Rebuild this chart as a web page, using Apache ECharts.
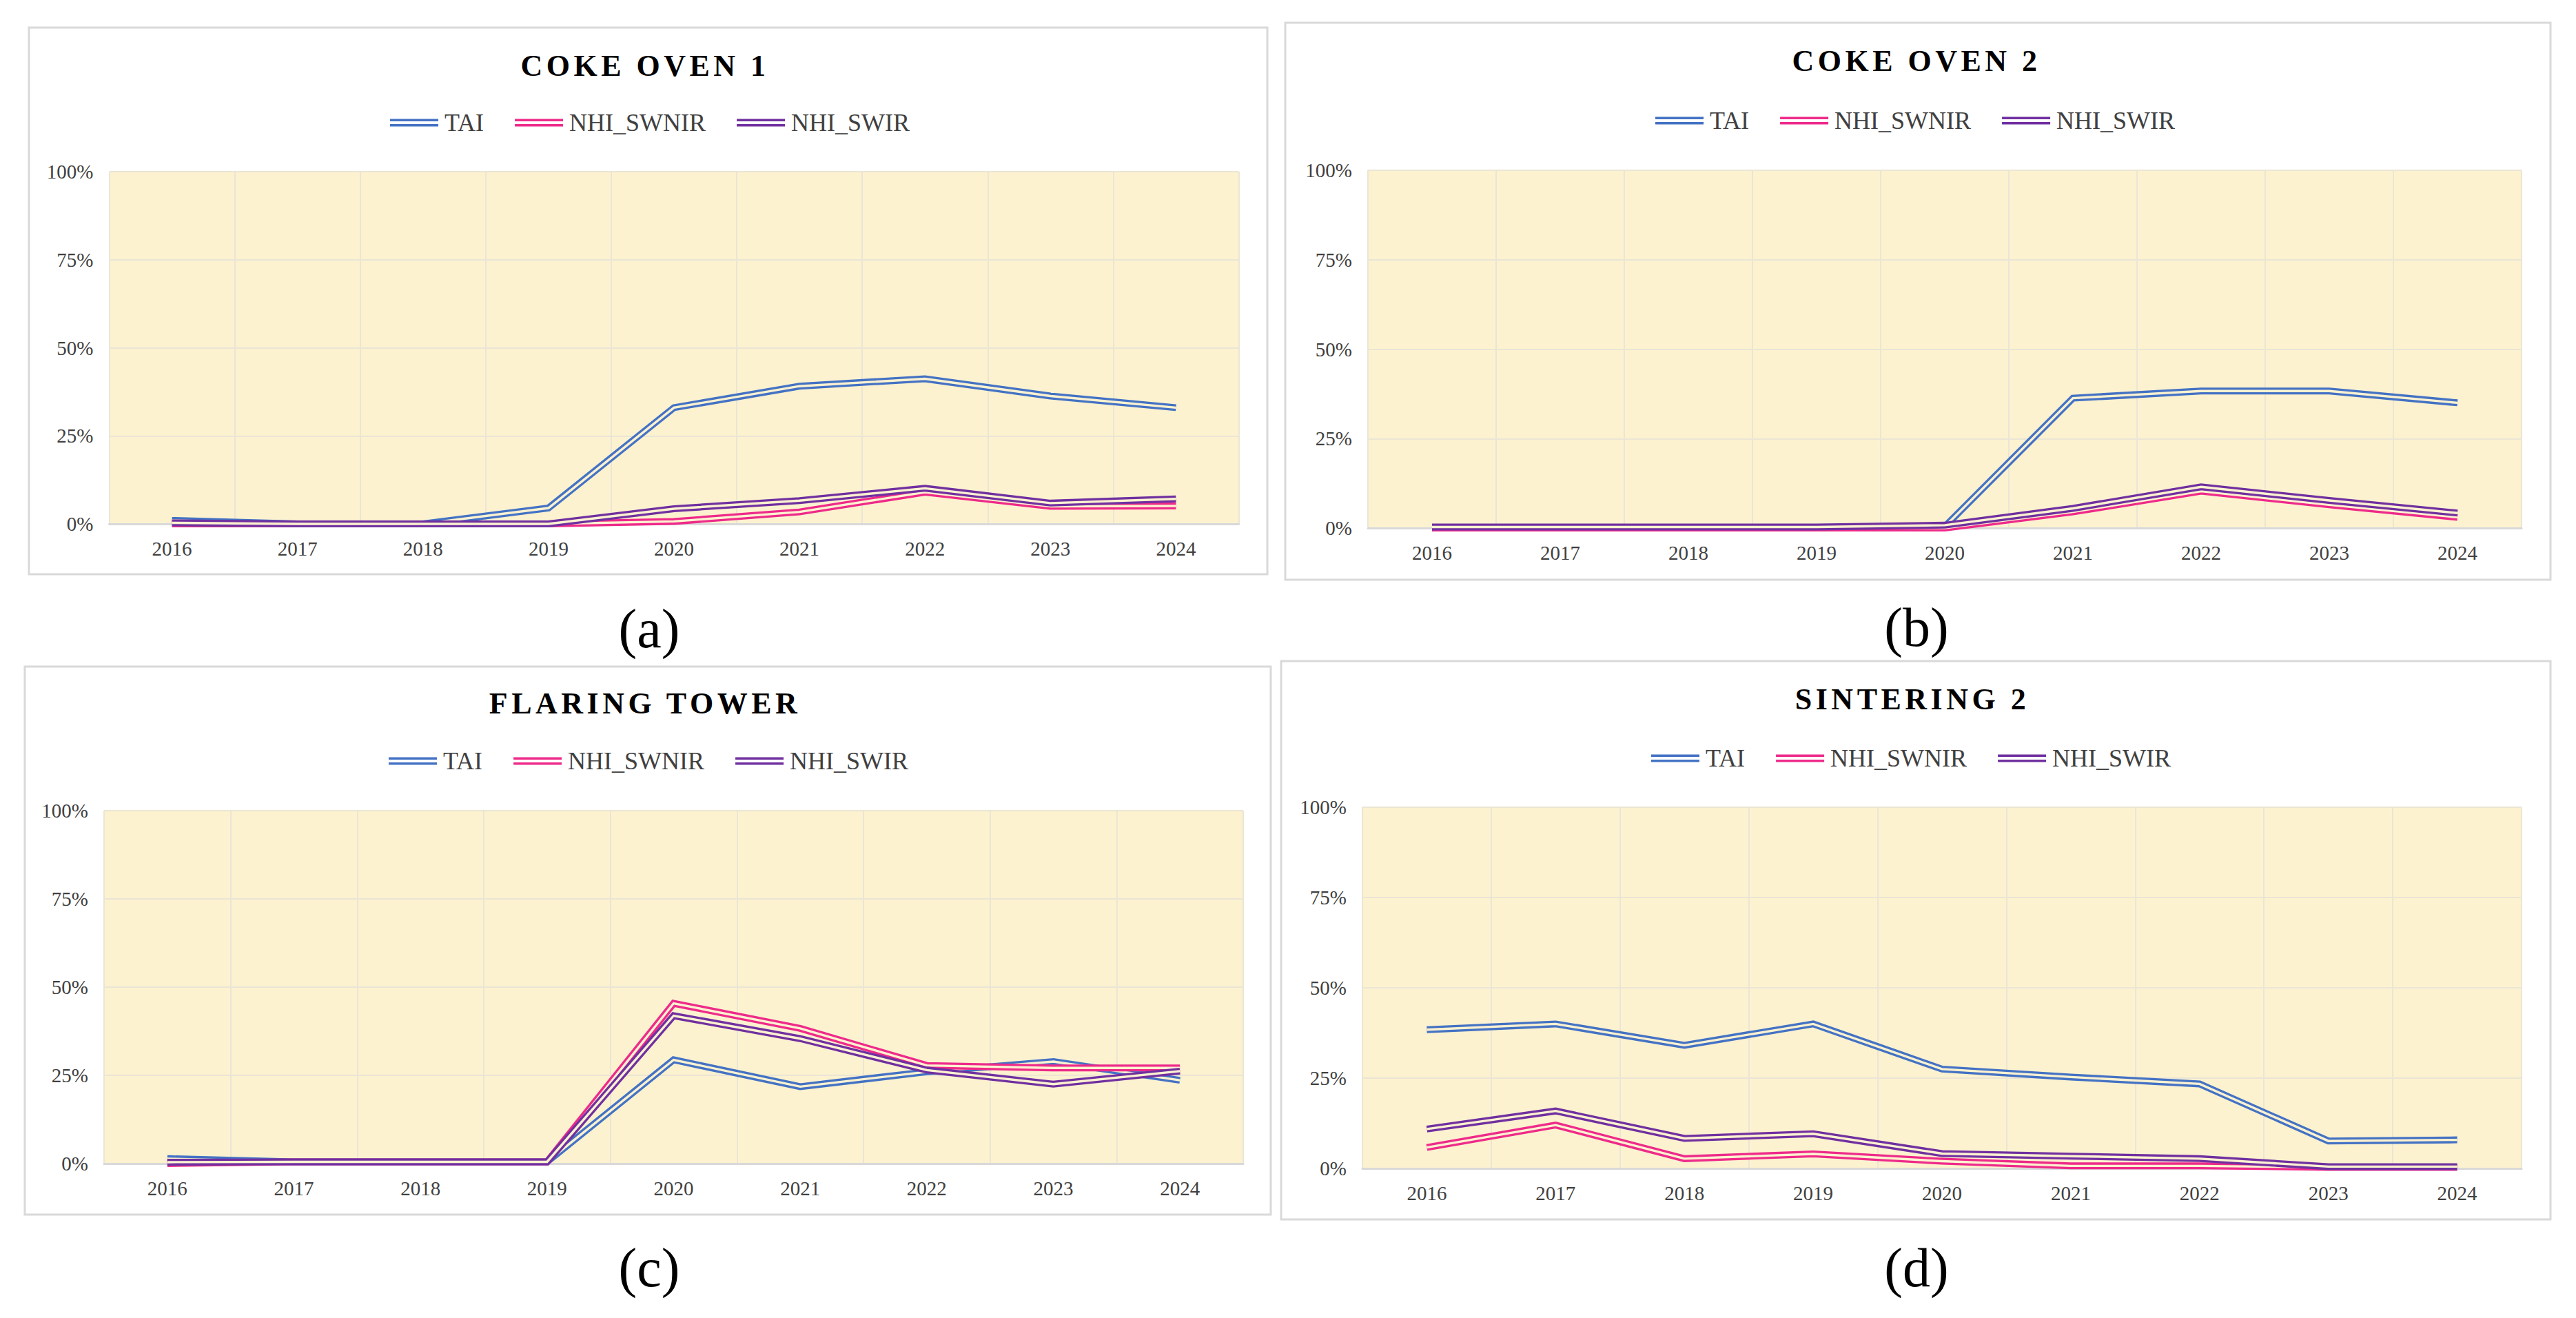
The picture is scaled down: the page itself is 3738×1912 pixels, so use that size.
<!DOCTYPE html>
<html>
<head>
<meta charset="utf-8">
<script src="https://cdn.jsdelivr.net/npm/echarts@6/dist/echarts.min.js"></script>
<style>
html,body{margin:0;padding:0;background:#ffffff;}
#chart{width:3738px;height:1912px;}
</style>
</head>
<body>
<div id="chart"></div>
<script>
// ---------------- DATA ----------------
const years = ['2016','2017','2018','2019','2020','2021','2022','2023','2024'];
const seriesNames = ['TAI','NHI_SWNIR','NHI_SWIR'];
const panelTitles = ['COKE OVEN 1','COKE OVEN 2','FLARING TOWER','SINTERING 2'];
const panelCaptions = ['(a)','(b)','(c)','(d)'];
const yTickLabels = ['0%','25%','50%','75%','100%'];

const cokeOven1TAI   = [1.0, 0, 0, 4.5, 33.0, 39.1, 41.2, 36.3, 33.0];
const cokeOven1SWNIR = [0, 0, 0, 0, 0.7, 3.4, 9.0, 5.0, 5.1];
const cokeOven1SWIR  = [0.3, 0, 0, 0, 4.3, 6.6, 10.1, 5.9, 7.1];

const cokeOven2TAI   = [0, 0, 0, 0, 0.4, 36.3, 38.3, 38.3, 35.0];
const cokeOven2SWNIR = [0, 0, 0, 0, 0, 4.5, 10.3, 6.5, 3.0];
const cokeOven2SWIR  = [0.3, 0.3, 0.3, 0.3, 0.8, 5.5, 11.5, 7.7, 4.2];

const flaringTAI   = [1.4, 0.5, 0.5, 0.5, 29.4, 21.8, 26.0, 28.9, 23.6];
const flaringSWNIR = [0, 0.5, 0.5, 0.5, 45.4, 38.3, 27.8, 27.1, 27.1];
const flaringSWIR  = [0.4, 0.5, 0.5, 0.5, 41.9, 35.4, 26.5, 22.5, 26.2];

const sintering2TAI   = [38.4, 40.0, 34.1, 40.0, 27.5, 25.3, 23.4, 7.6, 7.9];
const sintering2SWNIR = [5.8, 12.0, 2.7, 4.0, 2.0, 0.7, 0.7, 0.3, 0.3];
const sintering2SWIR  = [10.9, 15.9, 8.3, 9.6, 4.1, 3.4, 2.7, 0.5, 0.5];

const panelData = [
  [cokeOven1TAI, cokeOven1SWNIR, cokeOven1SWIR],
  [cokeOven2TAI, cokeOven2SWNIR, cokeOven2SWIR],
  [flaringTAI, flaringSWNIR, flaringSWIR],
  [sintering2TAI, sintering2SWNIR, sintering2SWIR]
];

// ---------------- LAYOUT / STYLE ----------------
const FONT = '"Liberation Serif", "Times New Roman", serif';
const lineColors = ['#4472C4', '#EE2A8A', '#7030A0'];
const plotBg = '#FCF2D0';
const gridLineColor = '#EBE5D5';
const textColor = '#404040';

const layouts = [
  { box:[42,40,1797,793],  grid:[158.5,249,1639,511], title:[936,95],  legend:[566,178],  caption:[942,912] },
  { box:[1865,33,1836,808], grid:[1985,247,1674,519], title:[2781,88], legend:[2402,175], caption:[2781,910] },
  { box:[36,967,1808,795], grid:[151,1176,1653,512], title:[936,1020], legend:[564,1104], caption:[942,1839] },
  { box:[1859,959,1842,810], grid:[1977,1171,1682,524], title:[2775,1014], legend:[2396,1100], caption:[2781,1839] }
];

const grids = [], xAxes = [], yAxes = [], series = [], titles = [], legends = [], graphics = [];

layouts.forEach((L, p) => {
  graphics.push({
    type: 'rect', silent: true, z: -10,
    shape: { x: L.box[0], y: L.box[1], width: L.box[2], height: L.box[3] },
    style: { fill: '#ffffff', stroke: '#D9D9D9', lineWidth: 3 }
  });
  graphics.push({
    type: 'text', silent: true,
    x: L.caption[0], y: L.caption[1],
    style: { text: panelCaptions[p], fontSize: 80, fontFamily: FONT, fill: '#000000', align: 'center', verticalAlign: 'middle' }
  });

  grids.push({
    left: L.grid[0], top: L.grid[1], width: L.grid[2], height: L.grid[3],
    show: true, backgroundColor: plotBg, borderWidth: 0, containLabel: false
  });

  xAxes.push({
    type: 'category', gridIndex: p, data: years, boundaryGap: true,
    axisLine: { show: true, lineStyle: { color: '#D9D9D9', width: 3 } },
    axisTick: { show: false },
    axisLabel: { interval: 0, fontSize: 29, fontFamily: FONT, color: textColor, margin: 21 },
    splitLine: { show: true, lineStyle: { color: gridLineColor, width: 2 } }
  });

  yAxes.push({
    type: 'value', gridIndex: p, min: 0, max: 100, interval: 25,
    axisLine: { show: false }, axisTick: { show: false },
    axisLabel: {
      fontSize: 29, fontFamily: FONT, color: textColor, margin: 23,
      formatter: v => yTickLabels[Math.round(v / 25)]
    },
    splitLine: { show: true, lineStyle: { color: gridLineColor, width: 2 } }
  });

  titles.push({
    text: panelTitles[p], left: L.title[0], top: L.title[1] - 24, textAlign: 'center', padding: 0,
    textStyle: { fontSize: 44, fontWeight: 'bold', fontFamily: FONT, color: '#000000', lineHeight: 48 }
  });

  legends.push({
    data: seriesNames, left: L.legend[0], top: L.legend[1] - 19, padding: 0,
    orient: 'horizontal', itemGap: 45, itemWidth: 70, itemHeight: 11,
    icon: 'path://M0,0L70,0L70,3.5L0,3.5Z M0,7.5L70,7.5L70,11L0,11Z',
    itemStyle: { borderWidth: 0 },
    textStyle: { fontSize: 36, fontFamily: FONT, color: textColor, lineHeight: 38, padding: [0, 0, 0, 4] }
  });

  seriesNames.forEach((name, s) => {
    const values = panelData[p][s];
    // outer coloured stroke
    series.push({
      type: 'line', name: name, xAxisIndex: p, yAxisIndex: p, data: values,
      symbol: 'none', silent: true, clip: false, animation: false,
      itemStyle: { color: lineColors[s] },
      lineStyle: { color: lineColors[s], width: 10, join: 'miter', cap: 'butt' },
      emphasis: { disabled: true }
    });
    // inner gap (double-line effect)
    series.push({
      type: 'line', name: name, xAxisIndex: p, yAxisIndex: p, data: values,
      symbol: 'none', silent: true, clip: false, animation: false,
      itemStyle: { color: lineColors[s] },
      lineStyle: { color: plotBg, width: 3.4, join: 'miter', cap: 'butt' },
      emphasis: { disabled: true }
    });
  });
});

const chart = echarts.init(document.getElementById('chart'), null, { renderer: 'svg', width: 3738, height: 1912 });
chart.setOption({
  backgroundColor: '#ffffff',
  animation: false,
  title: titles,
  legend: legends,
  grid: grids,
  xAxis: xAxes,
  yAxis: yAxes,
  series: series,
  graphic: graphics
});

function spaceTitles() {
  document.querySelectorAll('#chart text').forEach(t => {
    if (panelTitles.indexOf(t.textContent) >= 0) {
      t.setAttribute('letter-spacing', '5.5');
    }
  });
}
spaceTitles();
chart.on('finished', spaceTitles);
</script>
</body>
</html>
